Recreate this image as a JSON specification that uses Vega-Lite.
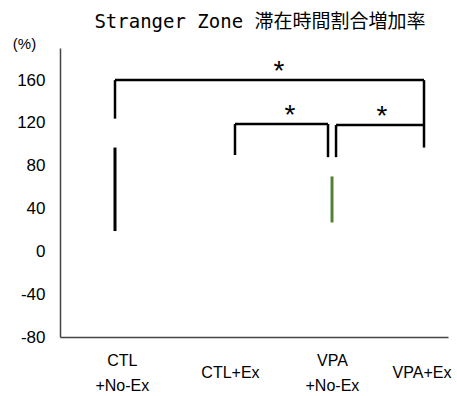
{
  "$schema": "https://vega.github.io/schema/vega-lite/v6.json",
  "width": 388,
  "height": 289,
  "autosize": {"type": "none"},
  "padding": {"left": 60, "top": 48, "right": 9, "bottom": 59},
  "background": "white",
  "config": {"view": {"stroke": null}, "font": "Liberation Sans"},
  "title": {
    "text": "Stranger Zone 滞在時間割合増加率",
    "font": "DejaVu Sans Mono, Noto Sans CJK JP",
    "fontSize": 19,
    "fontWeight": "normal",
    "color": "black",
    "frame": "group",
    "anchor": "middle",
    "offset": 4,
    "dx": 6
  },
  "datasets": {
    "brackets": [
      {"x": 0.934, "x2": 0.934, "y": 160, "y2": 124},
      {"x": 0.934, "x2": 3.934, "y": 160, "y2": 160},
      {"x": 3.934, "x2": 3.934, "y": 160, "y2": 97},
      {"x": 2.099, "x2": 2.099, "y": 119, "y2": 90},
      {"x": 2.099, "x2": 3.002, "y": 119, "y2": 119},
      {"x": 3.002, "x2": 3.002, "y": 119, "y2": 88},
      {"x": 3.08, "x2": 3.08, "y": 118, "y2": 88},
      {"x": 3.08, "x2": 3.934, "y": 118, "y2": 118}
    ],
    "errors": [{"group": "CTL+No-Ex", "x": 0.934, "lo": 19, "hi": 97}],
    "green": [{"group": "VPA+No-Ex", "x": 3.041, "lo": 27, "hi": 70}],
    "stars": [
      {"x": 2.526, "y": 160, "label": "*"},
      {"x": 2.633, "y": 119, "label": "*"},
      {"x": 3.526, "y": 118, "label": "*"}
    ]
  },
  "layer": [
    {
      "data": {"name": "brackets"},
      "mark": {"type": "rule", "color": "black", "strokeWidth": 2.5},
      "encoding": {
        "x": {
          "field": "x",
          "type": "quantitative",
          "scale": {"domain": [0.4, 4.167], "nice": false, "zero": false},
          "axis": {
            "title": null,
            "values": [1, 2.05, 3.04, 3.91],
            "labelExpr": "datum.value < 1.5 ? ['CTL', '+No-Ex'] : datum.value < 2.5 ? 'CTL+Ex' : datum.value < 3.5 ? ['VPA', '+No-Ex'] : 'VPA+Ex'",
            "grid": false,
            "ticks": false,
            "tickSize": 0,
            "domainColor": "#444",
            "domainWidth": 1.5,
            "labelFont": "Liberation Sans",
            "labelFontSize": 16,
            "labelColor": "black",
            "labelBaseline": "middle",
            "labelLineHeight": 25,
            "labelPadding": {"condition": {"test": "datum.value < 1.5 || (datum.value > 2.5 && datum.value < 3.5)", "value": 23}, "value": 35},
            "labelOverlap": false,
            "labelBound": false,
            "labelFlush": false
          }
        },
        "x2": {"field": "x2"},
        "y": {
          "field": "y",
          "type": "quantitative",
          "scale": {"domain": [-80, 190], "nice": false, "zero": false},
          "axis": {
            "title": "(%)",
            "titleAngle": 0,
            "titleX": -36,
            "titleY": -5,
            "titleAlign": "center",
            "titleBaseline": "middle",
            "titleFont": "Liberation Sans",
            "titleFontSize": 15,
            "titleFontWeight": "normal",
            "titleColor": "black",
            "values": [-80, -40, 0, 40, 80, 120, 160],
            "labelExpr": "datum.value < 0 ? '-' + abs(datum.value) : '' + datum.value",
            "grid": false,
            "ticks": false,
            "tickSize": 0,
            "domainColor": "#444",
            "domainWidth": 1.5,
            "labelFont": "Liberation Sans",
            "labelFontSize": 17,
            "labelColor": "black",
            "labelPadding": 15
          }
        },
        "y2": {"field": "y2"}
      }
    },
    {
      "data": {"name": "errors"},
      "mark": {"type": "rule", "color": "black", "strokeWidth": 3},
      "encoding": {
        "x": {"field": "x", "type": "quantitative"},
        "y": {"field": "lo", "type": "quantitative"},
        "y2": {"field": "hi"}
      }
    },
    {
      "data": {"name": "green"},
      "mark": {"type": "rule", "color": "#548235", "strokeWidth": 3},
      "encoding": {
        "x": {"field": "x", "type": "quantitative"},
        "y": {"field": "lo", "type": "quantitative"},
        "y2": {"field": "hi"}
      }
    },
    {
      "data": {"name": "stars"},
      "mark": {"type": "text", "font": "Liberation Sans", "fontSize": 28, "baseline": "alphabetic", "align": "center", "color": "black"},
      "encoding": {
        "x": {"field": "x", "type": "quantitative"},
        "y": {"field": "y", "type": "quantitative"},
        "text": {"field": "label"}
      }
    }
  ]
}
